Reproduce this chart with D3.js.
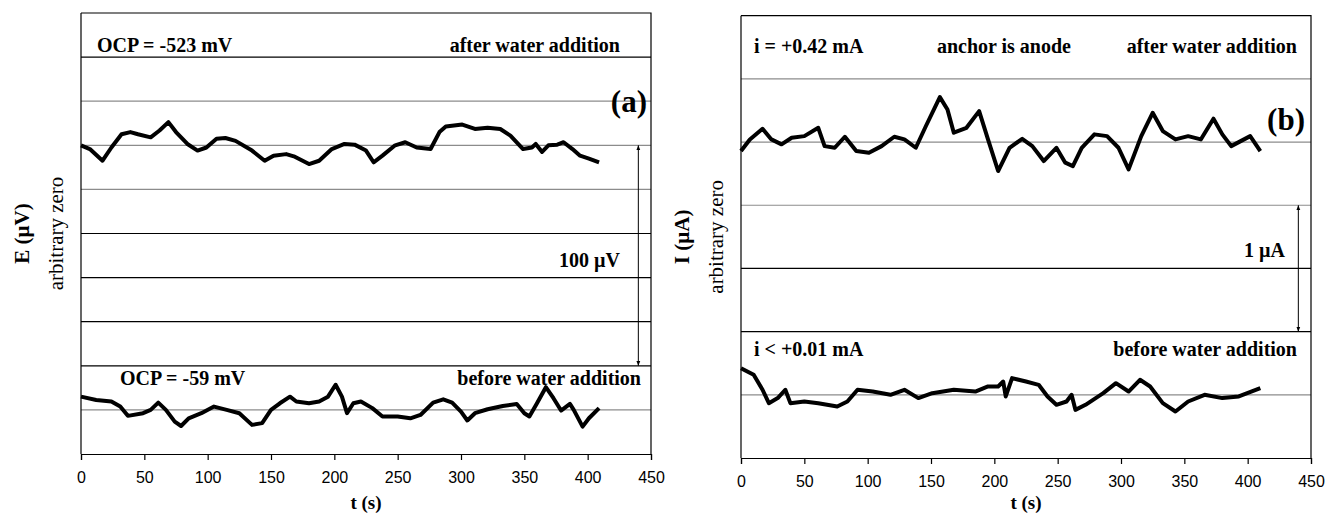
<!DOCTYPE html>
<html lang="en">
<head>
  <meta charset="UTF-8">
  <title>Anchor potential and current</title>
  <script src="https://d3js.org/d3.v7.min.js"></script>
  <style>
    body { margin: 0; background: white; }
    .lbl { font-family: "Liberation Serif", "Times New Roman", serif; font-weight: bold; fill: black; }
    .tick text { font-family: "Liberation Sans", Arial, sans-serif; font-size: 16px; }
  </style>
</head>
<body>
<div id="chart"></div>
<script>
// ---- data ----
// tick labels on both time axes
var tTicks = [0, 50, 100, 150, 200, 250, 300, 350, 400, 450];

// (a) potential, deviation from its own reference line, in microvolt
var tA_after = [0, 7, 17, 24, 32, 39, 45, 55, 62, 69, 75, 84, 92, 99, 107, 114, 122, 135, 145, 152, 162, 168, 180, 188, 198, 208, 216, 225, 231, 238, 248, 256, 265, 276, 283, 288, 301, 311, 321, 331, 339, 349, 356, 359, 364, 369, 376, 381, 388, 394, 401, 409];
var eAfter = [0, -1.7, -7, -1, 5, 6, 5, 3.6, 6.7, 10.5, 6, 0.6, -2.4, -1, 3, 3.3, 2, -2.4, -7, -4.7, -4, -5, -8.5, -7, -1.7, 0.6, 0.3, -2.4, -7.7, -4.7, 0, 1.4, -1, -1.7, 6, 8.5, 9.4, 7.4, 8, 7.4, 4.4, -1.7, -1, 0.6, -3, 0, 0.3, 1.4, -1.7, -4.7, -6, -7.7];

var tA_before = [0, 12, 24, 31, 37, 49, 55, 61, 67, 74, 79, 85, 95, 105, 115, 125, 135, 143, 150, 157, 165, 170, 180, 188, 195, 201, 206, 210, 215, 221, 230, 238, 250, 260, 268, 278, 286, 293, 300, 305, 311, 321, 333, 344, 350, 354, 360, 367, 373, 379, 386, 389, 396, 401, 409];
var eBefore = [6, 4.5, 3.8, 1.5, -2.7, -1.5, 0, 3.3, 0, -5.3, -7.3, -3.8, -1.5, 1.5, 0, -1.5, -6.8, -6, 0, 3, 6, 3.8, 3, 3.8, 6, 11.4, 6, -1.5, 3, 3.8, 0.8, -3, -3, -3.8, -2.3, 3.3, 4.8, 3.3, -0.8, -4.8, -1.5, 0.3, 1.8, 2.7, -1.5, -3, 3, 10.3, 5.3, -0.3, 2.7, 0, -7.6, -3.8, 0.8];

// (b) current, deviation from its own reference line, in nanoampere
var tB_after = [0, 7, 17, 24, 32, 40, 50, 61, 66, 74, 82, 91, 101, 111, 121, 129, 138, 146, 157, 163, 168, 178, 188, 195, 203, 212, 222, 230, 239, 249, 256, 262, 269, 279, 289, 298, 306, 316, 325, 333, 343, 353, 363, 373, 380, 387, 402, 410];
var iAfter = [-71, 21, 105, 21, -18, 34, 47, 113, -32, -45, 42, -71, -84, -32, 42, 21, -45, 127, 356, 258, 74, 113, 245, 21, -229, -45, 26, -32, -150, -45, -163, -190, -45, 61, 47, -45, -216, 47, 232, 87, 21, 47, 21, 185, 61, -32, 47, -71];

var tB_before = [0, 10, 17, 22, 29, 35, 39, 50, 61, 76, 84, 92, 104, 118, 129, 140, 151, 168, 185, 195, 203, 207, 209, 214, 225, 235, 242, 249, 257, 261, 264, 272, 286, 296, 306, 315, 323, 333, 343, 353, 366, 380, 393, 410];
var iBefore = [211, 158, 40, -66, -26, 40, -66, -53, -66, -92, -53, 40, 26, 0, 40, -26, 13, 40, 26, 66, 66, 105, -13, 132, 105, 79, -13, -79, -53, 0, -119, -79, 13, 92, 26, 119, 66, -66, -132, -53, 0, -26, -13, 53];

// reference lines (arbitrary zero) for each trace
var refA = [140, 20];      // microvolt: after, before
var refB = [2.5, 0.5];     // microampere: after, before

var width = 1328, height = 516;
var svg = d3.select("#chart").append("svg")
  .attr("width", width).attr("height", height);
svg.append("rect").attr("width", width).attr("height", height).attr("fill", "white");

// arrow heads for the scale bars
var defs = svg.append("defs");
["start", "end"].forEach(function(k){
  defs.append("marker")
    .attr("id", "arr-" + k)
    .attr("viewBox", "0 0 10 10")
    .attr("refX", k == "end" ? 10 : 0).attr("refY", 5)
    .attr("markerWidth", 5).attr("markerHeight", 5)
    .attr("orient", "auto")
    .append("path")
    .attr("d", k == "end" ? "M0,1 L10,5 L0,9 z" : "M10,1 L0,5 L10,9 z")
    .attr("fill", "black");
});

// draws one panel
function panel(opt){
  var x = d3.scaleLinear().domain([0, 450]).range([opt.left, opt.right]);
  var y = d3.scaleLinear().domain([0, opt.ymax]).range([opt.bottom, opt.top]);
  var g = svg.append("g");

  // horizontal grid lines
  var grid = d3.range(opt.step, opt.ymax - opt.step / 2, opt.step);
  g.selectAll("line.grid").data(grid).enter().append("line")
    .attr("class", "grid")
    .attr("x1", x(0)).attr("x2", x(450))
    .attr("y1", function(d){ return y(d); })
    .attr("y2", function(d){ return y(d); })
    .attr("stroke", function(d, i){ return opt.gray.indexOf(i) >= 0 ? "#8c8c8c" : "#000"; })
    .attr("stroke-width", 1.2);

  // frame: top and right
  g.append("path")
    .attr("d", "M" + x(0) + "," + y(opt.ymax) + "H" + x(450) + "V" + y(0))
    .attr("fill", "none").attr("stroke", "#000").attr("stroke-width", 1.2);
  g.append("line")
    .attr("x1", x(0)).attr("x2", x(0)).attr("y1", y(0)).attr("y2", y(opt.ymax))
    .attr("stroke", "#000").attr("stroke-width", 1.2);

  // time axis
  var ax = g.append("g")
    .attr("transform", "translate(0," + y(0) + ")")
    .call(d3.axisBottom(x).tickValues(tTicks).tickSize(6).tickPadding(12));
  ax.select(".domain").attr("stroke-width", 1.2);
  ax.selectAll(".tick line").attr("stroke-width", 1.2);

  // traces
  var line = d3.line()
    .x(function(d){ return x(d[0]); })
    .y(function(d){ return y(d[1]); });
  opt.traces.forEach(function(tr){
    var pts = tr.t.map(function(t, i){ return [t, tr.ref + tr.v[i] * tr.k]; });
    g.append("path").datum(pts)
      .attr("d", line)
      .attr("fill", "none")
      .attr("stroke", "#000")
      .attr("stroke-width", 4)
      .attr("stroke-linejoin", "round");
  });

  // scale bar arrow
  g.append("line")
    .attr("x1", x(440)).attr("x2", x(440))
    .attr("y1", y(opt.bar[0])).attr("y2", y(opt.bar[1]))
    .attr("stroke", "#000").attr("stroke-width", 1)
    .attr("marker-start", "url(#arr-start)")
    .attr("marker-end", "url(#arr-end)");

  // texts
  opt.texts.forEach(function(tx){
    g.append("text").attr("class", "lbl")
      .attr("x", tx[0]).attr("y", tx[1])
      .attr("text-anchor", tx[2])
      .attr("font-size", tx[3])
      .text(tx[4]);
  });

  // axis titles
  g.append("text").attr("class", "lbl")
    .attr("transform", "translate(" + (opt.left - 59) + "," + ((opt.top + opt.bottom) / 2) + ") rotate(-90)")
    .attr("text-anchor", "middle").attr("dominant-baseline", "central")
    .attr("font-size", 21).text(opt.ylabel);
  g.append("text")
    .attr("transform", "translate(" + (opt.left - 25) + "," + ((opt.top + opt.bottom) / 2) + ") rotate(-90)")
    .attr("text-anchor", "middle").attr("dominant-baseline", "central")
    .attr("font-family", "Liberation Serif, serif").attr("font-size", 21)
    .text("arbitrary zero");
  g.append("text").attr("class", "lbl")
    .attr("x", x(225)).attr("y", 509)
    .attr("text-anchor", "middle").attr("font-size", 19)
    .text("t (s)");
}

panel({
  left: 81, right: 651, top: 13, bottom: 454,
  ymax: 200, step: 20, gray: [7, 6, 5, 0],
  ylabel: "E (\u00b5V)",
  traces: [
    { t: tA_after, v: eAfter, ref: refA[0], k: 1 },
    { t: tA_before, v: eBefore, ref: refA[1], k: 1 }
  ],
  bar: [refA[0], refA[0] - 100],
  texts: [
    [97, 52, "start", 20, "OCP = -523 mV"],
    [620, 52, "end", 20, "after water addition"],
    [647, 112, "end", 31, "(a)"],
    [620, 267, "end", 20, "100 \u00b5V"],
    [120, 385, "start", 20, "OCP = -59 mV"],
    [641, 385, "end", 20, "before water addition"]
  ]
});

panel({
  left: 741, right: 1311, top: 15.7, bottom: 458,
  ymax: 3.5, step: 0.5, gray: [5, 4, 3, 0],
  ylabel: "I (\u00b5A)",
  traces: [
    { t: tB_after, v: iAfter, ref: refB[0], k: 0.001 },
    { t: tB_before, v: iBefore, ref: refB[1], k: 0.001 }
  ],
  bar: [refB[0] - 0.5, refB[0] - 1.5],
  texts: [
    [754, 53, "start", 20, "i = +0.42 mA"],
    [1071, 53, "end", 20, "anchor is anode"],
    [1297, 53, "end", 20, "after water addition"],
    [1305, 130, "end", 31, "(b)"],
    [1285, 257, "end", 20, "1 \u00b5A"],
    [754, 356, "start", 20, "i < +0.01 mA"],
    [1297, 356, "end", 20, "before water addition"]
  ]
});
</script>
</body>
</html>
